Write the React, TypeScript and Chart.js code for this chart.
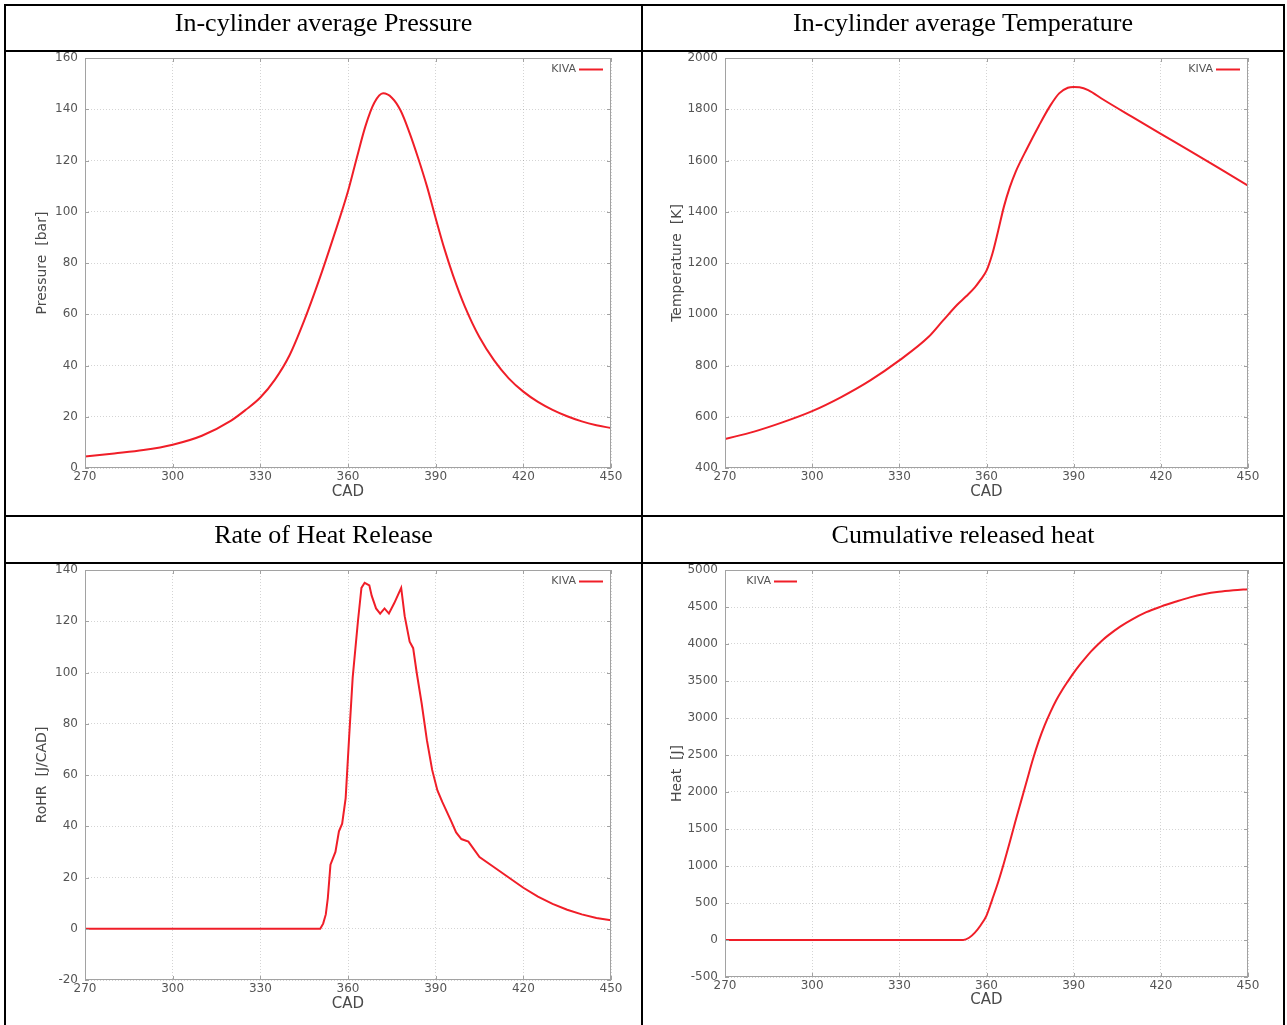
import React, { useEffect, useRef } from "react";
import { Chart, registerables } from "chart.js";

Chart.register(...registerables);

// ---------------- data ----------------
const xTicksCAD = [270, 300, 330, 360, 390, 420, 450];

const pressureCAD = [270, 280, 290, 300, 310, 320, 325, 330, 335, 340, 345, 350, 355, 360, 363, 366, 369, 372, 375, 378, 381, 384, 387, 390, 393, 396, 400, 405, 410, 415, 420, 425, 430, 435, 440, 445, 450];
const pressureBar = [4.5, 5.7, 7.0, 9.1, 12.6, 18.5, 22.7, 27.5, 34.5, 44, 57.5, 73, 90, 108, 121, 133.5, 142.5, 146.2, 144.5, 139.5, 131, 121, 110, 97.5, 85.5, 75, 63, 51, 42, 35, 29.8, 25.8, 22.7, 20.2, 18.2, 16.7, 15.6];

const temperatureCAD = [270, 280, 290, 300, 310, 320, 330, 340, 345, 350, 353, 356, 358, 360, 362, 364, 366, 368, 370, 374, 378, 382, 385, 388, 390, 392, 395, 400, 410, 420, 430, 440, 450];
const temperatureK = [513, 542, 579, 622, 677, 742, 820, 911, 975, 1038, 1070, 1105, 1135, 1170, 1235, 1325, 1420, 1495, 1555, 1648, 1735, 1815, 1862, 1884, 1887, 1886, 1875, 1839, 1771, 1704, 1638, 1570, 1502];

const rohrCAD = [270, 300, 330, 350.5, 351.5, 352.4, 353.1, 354, 355.7, 356.9, 358, 359.2, 360.4, 361.6, 363.4, 364.6, 365.7, 367.3, 368.1, 369.6, 371, 372.5, 374, 375.8, 377, 378.2, 379.4, 381.1, 382.3, 383.5, 385.2, 387, 388.8, 390.6, 392.3, 395.3, 397, 398.8, 401.2, 405, 410, 415, 420, 425, 430, 435, 440, 445, 450];
const rohrJ = [0, 0, 0, 0, 2, 5.6, 12, 25, 30, 38, 41, 51, 75, 98, 120, 133, 135, 134, 130, 125, 123, 125, 123, 127, 130, 133, 122, 112, 109.5, 100, 88, 73.6, 62, 54, 49.4, 42, 37.6, 35, 34, 28, 24, 20, 16, 12.5, 9.7, 7.4, 5.6, 4.2, 3.3];

const heatCAD = [270, 300, 330, 352, 354, 356, 358, 360, 362, 364, 366, 368, 370, 372, 374, 376, 378, 380, 382, 384, 386, 388, 390, 392, 394, 396, 398, 400, 402, 406, 410, 415, 420, 425, 430, 435, 440, 445, 450];
const heatJ = [0, 0, 0, 0, 30, 100, 200, 330, 550, 780, 1040, 1320, 1610, 1890, 2170, 2445, 2690, 2900, 3080, 3240, 3375, 3495, 3610, 3715, 3810, 3900, 3980, 4055, 4120, 4235, 4330, 4430, 4505, 4570, 4630, 4675, 4705, 4725, 4740];

const panelTitles = [
  "In-cylinder average Pressure",
  "In-cylinder average Temperature",
  "Rate of Heat Release",
  "Cumulative released heat",
];
const legendLabel = "KIVA";

// ---------------- styling / layout ----------------
const LINE_RED = "#f01e28";
const FRAME = "#a2a2a2";
const TICK_TXT = "#555555";
const TITLE_TXT = "#4a4a4a";
const SANS = "'DejaVu Sans', sans-serif";

type Panel = {
  cad: number[];
  vals: number[];
  yMin: number;
  yMax: number;
  yStep: number;
  yTitle: string;
  legendSide: "left" | "right";
  canvas: { left: number; top: number; width: number; height: number };
  area: { l: number; t: number; r: number; b: number };
  yTitleX: number;
  xTitleY: number;
  tension: number;
};

const panels: Panel[] = [
  {
    cad: pressureCAD, vals: pressureBar, yMin: 0, yMax: 160, yStep: 20, yTitle: "Pressure  [bar]",
    legendSide: "right",
    canvas: { left: 6, top: 40, width: 635, height: 473 },
    area: { l: 85, t: 58, r: 611, b: 468 },
    yTitleX: 42, xTitleY: 492, tension: 0.4,
  },
  {
    cad: temperatureCAD, vals: temperatureK, yMin: 400, yMax: 2000, yStep: 200, yTitle: "Temperature  [K]",
    legendSide: "right",
    canvas: { left: 643, top: 40, width: 640, height: 473 },
    area: { l: 725, t: 58, r: 1248, b: 468 },
    yTitleX: 677, xTitleY: 492, tension: 0.4,
  },
  {
    cad: rohrCAD, vals: rohrJ, yMin: -20, yMax: 140, yStep: 20, yTitle: "RoHR  [J/CAD]",
    legendSide: "right",
    canvas: { left: 6, top: 552, width: 635, height: 471 },
    area: { l: 85, t: 570, r: 611, b: 980 },
    yTitleX: 42, xTitleY: 1004, tension: 0,
  },
  {
    cad: heatCAD, vals: heatJ, yMin: -500, yMax: 5000, yStep: 500, yTitle: "Heat  [J]",
    legendSide: "left",
    canvas: { left: 643, top: 552, width: 640, height: 471 },
    area: { l: 725, t: 570, r: 1248, b: 977 },
    yTitleX: 677, xTitleY: 1000, tension: 0.4,
  },
];

const framePlugin = {
  id: "gnuFrame",
  afterDatasetsDraw(chart: any, _args: any, opts: any) {
    const { ctx, chartArea: a, scales } = chart;
    ctx.save();
    ctx.strokeStyle = FRAME;
    ctx.lineWidth = 1;
    ctx.setLineDash([]);
    ctx.strokeRect(Math.round(a.left) + 0.5, Math.round(a.top) + 0.5, Math.round(a.right - a.left) - 1, Math.round(a.bottom - a.top) - 1);
    const tl = 4;
    ctx.beginPath();
    scales.x.ticks.forEach((t: any) => {
      const px = Math.round(scales.x.getPixelForValue(t.value)) + 0.5;
      ctx.moveTo(px, a.bottom);
      ctx.lineTo(px, a.bottom - tl);
      ctx.moveTo(px, a.top);
      ctx.lineTo(px, a.top + tl);
    });
    scales.y.ticks.forEach((t: any) => {
      const py = Math.round(scales.y.getPixelForValue(t.value)) + 0.5;
      ctx.moveTo(a.left, py);
      ctx.lineTo(a.left + tl, py);
      ctx.moveTo(a.right, py);
      ctx.lineTo(a.right - tl, py);
    });
    ctx.stroke();

    // legend key
    const side = opts.side;
    const y = a.top + 11.5;
    let lx1: number, lx2: number, tx: number;
    if (side === "left") {
      lx1 = a.left + 49; lx2 = a.left + 72; tx = a.left + 46;
    } else {
      lx1 = a.right - 32; lx2 = a.right - 8; tx = a.right - 35;
    }
    ctx.font = `11px ${SANS}`;
    ctx.fillStyle = TICK_TXT;
    ctx.textAlign = "right";
    ctx.textBaseline = "middle";
    ctx.fillText(legendLabel, tx, y);
    ctx.strokeStyle = LINE_RED;
    ctx.lineWidth = 2;
    ctx.beginPath();
    ctx.moveTo(lx1, y);
    ctx.lineTo(lx2, y);
    ctx.stroke();
    ctx.restore();
  },
};

const plainNum = (v: any) => String(v);

function PanelChart({ p }: { p: Panel }) {
  const ref = useRef<HTMLCanvasElement | null>(null);
  useEffect(() => {
    if (!ref.current) return;
    const c = p.canvas;
    const a = p.area;
    const yW = a.l - c.left;
    const xH = c.top + c.height - a.b;
    const yTitleSize = 14;
    const xTitleSize = 15;
    const data = p.cad.map((x, i) => ({ x, y: p.vals[i] }));
    const chart = new Chart(ref.current, {
      type: "line",
      data: {
        datasets: [
          {
            label: legendLabel,
            data,
            borderColor: LINE_RED,
            borderWidth: 2,
            pointRadius: 0,
            fill: false,
            tension: p.tension,
            cubicInterpolationMode: p.tension > 0 ? "monotone" : "default",
          } as any,
        ],
      },
      options: {
        animation: false,
        responsive: false,
        maintainAspectRatio: false,
        events: [],
        layout: {
          padding: { left: 0, top: a.t - c.top, right: c.left + c.width - a.r, bottom: 0 },
        },
        plugins: {
          legend: { display: false },
          tooltip: { enabled: false },
          gnuFrame: { side: p.legendSide },
        } as any,
        scales: {
          x: {
            type: "linear",
            min: 270,
            max: 450,
            afterBuildTicks: (s: any) => {
              s.ticks = xTicksCAD.map((v) => ({ value: v }));
            },
            afterFit: (s: any) => {
              s.height = xH;
            },
            ticks: {
              autoSkip: false,
              maxRotation: 0,
              padding: 2,
              color: TICK_TXT,
              font: { family: SANS, size: 12 },
              callback: plainNum,
            },
            grid: {
              color: "rgba(0,0,0,0.17)",
              lineWidth: 1,
              drawTicks: false,
              tickLength: 0,
            },
            border: { display: false, dash: [1, 2] },
            title: {
              display: true,
              text: "CAD",
              color: TITLE_TXT,
              font: { family: SANS, size: xTitleSize },
              padding: { top: 0, bottom: c.top + c.height - p.xTitleY - (xTitleSize * 1.2) / 2 },
            },
          },
          y: {
            type: "linear",
            min: p.yMin,
            max: p.yMax,
            afterFit: (s: any) => {
              s.width = yW;
            },
            ticks: {
              stepSize: p.yStep,
              autoSkip: false,
              padding: 7,
              color: TICK_TXT,
              font: { family: SANS, size: 12 },
              callback: plainNum,
            },
            grid: {
              color: "rgba(0,0,0,0.17)",
              lineWidth: 1,
              drawTicks: false,
              tickLength: 0,
            },
            border: { display: false, dash: [1, 2] },
            title: {
              display: true,
              text: p.yTitle,
              color: TITLE_TXT,
              font: { family: SANS, size: yTitleSize },
              padding: { top: p.yTitleX - c.left - (yTitleSize * 1.2) / 2, bottom: 0 },
            },
          },
        },
      },
      plugins: [framePlugin],
    });
    return () => chart.destroy();
  }, [p]);
  const c = p.canvas;
  return (
    <canvas
      ref={ref}
      width={c.width}
      height={c.height}
      style={{ position: "absolute", left: c.left, top: c.top, width: c.width, height: c.height }}
    />
  );
}

const LINE_W = 2;
const hLines = [4, 50, 515, 562];
const vLines = [4, 641, 1283];
const titleRows = [
  { top: 6, bottom: 50 },
  { top: 517, bottom: 562 },
];

export default function App() {
  const cells = [
    { left: 6, right: 641 },
    { left: 643, right: 1283 },
  ];
  return (
    <div style={{ position: "absolute", left: 0, top: 0, width: 1287, height: 1025, background: "#fff", overflow: "hidden" }}>
      {panels.map((p, i) => (
        <PanelChart key={i} p={p} />
      ))}
      {titleRows.map((row, ri) =>
        cells.map((cell, ci) => (
          <div
            key={`t${ri}${ci}`}
            style={{
              position: "absolute",
              left: cell.left,
              top: row.top,
              width: cell.right - cell.left,
              height: row.bottom - row.top,
              display: "flex",
              alignItems: "center",
              justifyContent: "center",
              fontFamily: "'Liberation Serif', 'Times New Roman', serif",
              fontSize: 26,
              color: "#000",
              lineHeight: 1,
              paddingBottom: 10,
              boxSizing: "border-box",
            }}
          >
            {panelTitles[ri * 2 + ci]}
          </div>
        ))
      )}
      {hLines.map((y, i) => (
        <div key={`h${i}`} style={{ position: "absolute", left: 4, top: y, width: 1281, height: LINE_W, background: "#000" }} />
      ))}
      {vLines.map((x, i) => (
        <div key={`v${i}`} style={{ position: "absolute", left: x, top: 4, width: LINE_W, height: 1030, background: "#000" }} />
      ))}
    </div>
  );
}
